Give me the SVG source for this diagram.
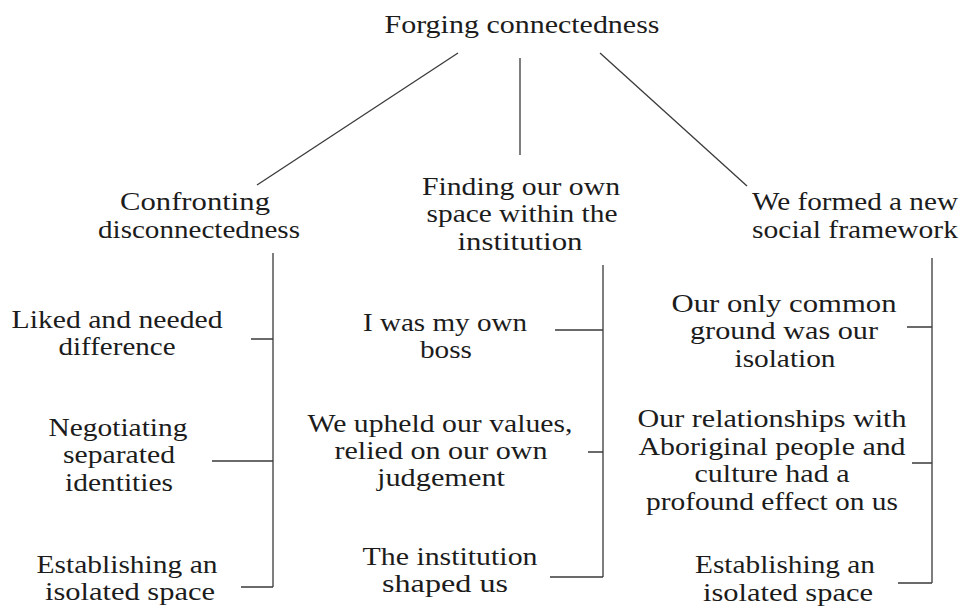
<svg xmlns="http://www.w3.org/2000/svg" width="963" height="608" viewBox="0 0 963 608">
  <style>
    text { font-family: "Liberation Serif", "Times New Roman", serif; font-size: 26px; fill: #1c1c1c; text-anchor: middle; }
    .ln { stroke: #3a3a3a; stroke-width: 1.3; fill: none; }
  </style>
  <rect width="963" height="608" fill="#ffffff"/>

  <!-- connectors -->
  <g id="connectors">
    <line class="ln" x1="458" y1="53" x2="257" y2="185"/>
    <line class="ln" x1="520" y1="58" x2="520" y2="155"/>
    <line class="ln" x1="600" y1="53" x2="747" y2="186"/>
    <!-- left bracket -->
    <path class="ln" d="M273 253 V587 M251 339 H273 M212 461 H273 M241 587 H273"/>
    <!-- middle bracket -->
    <path class="ln" d="M603 265 V577 M555 330 H603 M588 452 H603 M550 577 H603"/>
    <!-- right bracket -->
    <path class="ln" d="M932 258 V583 M907 327 H932 M912 463 H932 M898 583 H932"/>
  </g>

  <g id="root"><text x="522" y="33" textLength="275" lengthAdjust="spacingAndGlyphs">Forging connectedness</text></g>

  <g id="confronting">
    <text x="195" y="210" textLength="150" lengthAdjust="spacingAndGlyphs">Confronting</text>
    <text x="199" y="238" textLength="202" lengthAdjust="spacingAndGlyphs">disconnectedness</text>
  </g>
  <g id="finding-space">
    <text x="521" y="195" textLength="198" lengthAdjust="spacingAndGlyphs">Finding our own</text>
    <text x="522" y="222" textLength="191" lengthAdjust="spacingAndGlyphs">space within the</text>
    <text x="520" y="250" textLength="125" lengthAdjust="spacingAndGlyphs">institution</text>
  </g>
  <g id="new-framework">
    <text x="855" y="210" textLength="206" lengthAdjust="spacingAndGlyphs">We formed a new</text>
    <text x="855" y="238" textLength="206" lengthAdjust="spacingAndGlyphs">social framework</text>
  </g>

  <g id="liked-difference">
    <text x="117" y="328" textLength="211" lengthAdjust="spacingAndGlyphs">Liked and needed</text>
    <text x="117" y="355" textLength="117" lengthAdjust="spacingAndGlyphs">difference</text>
  </g>
  <g id="negotiating">
    <text x="118" y="436" textLength="139" lengthAdjust="spacingAndGlyphs">Negotiating</text>
    <text x="119" y="463" textLength="112" lengthAdjust="spacingAndGlyphs">separated</text>
    <text x="119" y="491" textLength="108" lengthAdjust="spacingAndGlyphs">identities</text>
  </g>
  <g id="isolated-space-left">
    <text x="127" y="573" textLength="181" lengthAdjust="spacingAndGlyphs">Establishing an</text>
    <text x="130" y="600" textLength="170" lengthAdjust="spacingAndGlyphs">isolated space</text>
  </g>

  <g id="own-boss">
    <text x="445" y="331" textLength="164" lengthAdjust="spacingAndGlyphs">I was my own</text>
    <text x="446" y="358" textLength="52" lengthAdjust="spacingAndGlyphs">boss</text>
  </g>
  <g id="upheld-values">
    <text x="440" y="432" textLength="265" lengthAdjust="spacingAndGlyphs">We upheld our values,</text>
    <text x="441" y="459" textLength="213" lengthAdjust="spacingAndGlyphs">relied on our own</text>
    <text x="441" y="486" textLength="128" lengthAdjust="spacingAndGlyphs">judgement</text>
  </g>
  <g id="institution-shaped">
    <text x="450" y="565" textLength="175" lengthAdjust="spacingAndGlyphs">The institution</text>
    <text x="445" y="592" textLength="126" lengthAdjust="spacingAndGlyphs">shaped us</text>
  </g>

  <g id="common-ground">
    <text x="784" y="312" textLength="225" lengthAdjust="spacingAndGlyphs">Our only common</text>
    <text x="784" y="339" textLength="188" lengthAdjust="spacingAndGlyphs">ground was our</text>
    <text x="785" y="367" textLength="101" lengthAdjust="spacingAndGlyphs">isolation</text>
  </g>
  <g id="aboriginal-relationships">
    <text x="772" y="427" textLength="269" lengthAdjust="spacingAndGlyphs">Our relationships with</text>
    <text x="772" y="455" textLength="267" lengthAdjust="spacingAndGlyphs">Aboriginal people and</text>
    <text x="772" y="482" textLength="155" lengthAdjust="spacingAndGlyphs">culture had a</text>
    <text x="772" y="510" textLength="252" lengthAdjust="spacingAndGlyphs">profound effect on us</text>
  </g>
  <g id="isolated-space-right">
    <text x="785" y="573" textLength="180" lengthAdjust="spacingAndGlyphs">Establishing an</text>
    <text x="788" y="601" textLength="170" lengthAdjust="spacingAndGlyphs">isolated space</text>
  </g>
</svg>
